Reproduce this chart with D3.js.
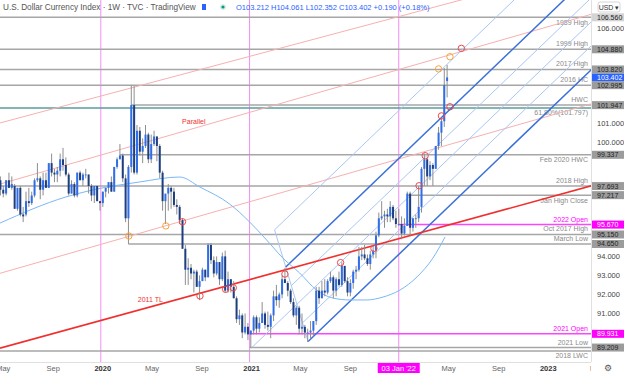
<!DOCTYPE html>
<html><head><meta charset="utf-8">
<script src="https://cdn.jsdelivr.net/npm/d3@7"></script>
<style>body{margin:0;background:#fff;}svg{display:block;font-family:"Liberation Sans",Arial,sans-serif;}</style>
</head><body><svg id="c" width="624" height="373"></svg>
<script>
// ---------------- DATA ----------------
const firstWeek = "2019-04-29";
// weekly O,H,L,C
const ohlc = [
// 2019 Apr29..Dec30
[98.0,98.2,97.2,97.5],[97.5,97.7,97.1,97.3],[97.3,98.0,97.2,98.0],[98.0,98.4,97.6,97.6],[97.6,98.2,97.5,97.8],
[97.7,97.8,96.5,96.5],[96.5,97.6,96.4,97.6],[97.6,97.7,96.1,96.2],[96.2,96.6,95.8,96.1],
[96.2,97.4,96.1,96.9],[96.9,97.6,96.6,96.8],[96.8,97.4,96.7,97.2],[97.2,98.1,97.1,98.0],[98.0,98.9,97.9,98.1],
[98.1,98.2,97.0,97.5],[97.5,98.4,97.2,98.0],[98.0,98.4,97.6,97.6],[97.6,98.9,97.6,98.9],
[98.9,99.4,98.2,98.4],[98.4,98.6,97.9,98.3],[98.3,98.7,97.9,98.5],[98.5,99.4,98.2,99.1],[99.1,99.7,98.5,98.8],
[98.8,99.2,98.2,98.3],[98.3,98.4,97.2,97.3],[97.3,98.0,97.3,97.8],[97.8,97.9,97.1,97.2],
[97.2,98.4,97.1,98.4],[98.4,98.5,98.0,98.0],[98.0,98.4,97.7,98.3],[98.3,98.6,98.1,98.3],
[98.3,98.3,97.3,97.7],[97.7,97.8,96.9,97.2],[97.2,97.7,96.8,97.7],[97.7,97.7,96.9,96.9],[96.9,96.9,96.4,96.8],
// 2020
[96.8,97.4,96.6,97.4],[97.4,97.6,97.1,97.6],[97.6,97.9,97.3,97.9],[97.9,98.2,97.4,97.4],
[97.4,98.7,97.4,98.7],[98.7,99.2,98.6,99.1],[99.1,99.9,99.1,99.3],[99.3,99.4,97.9,98.1],
[98.1,98.3,95.8,96.0],[96.0,98.8,94.65,98.7],[98.7,102.99,98.4,101.95],[101.95,102.95,98.3,98.4],[98.4,100.9,98.3,100.6],
[100.6,100.8,99.3,99.5],[99.5,100.2,98.9,99.8],[99.8,100.9,99.7,100.4],[100.4,100.5,98.9,99.1],
[99.1,100.4,98.9,99.9],[99.9,100.6,99.8,100.3],[100.3,100.3,99.0,99.8],[99.8,99.9,98.1,98.4],
[98.4,98.5,96.4,96.9],[96.9,97.1,95.7,97.3],[97.3,97.8,96.4,97.6],[97.6,97.7,96.5,97.4],[97.4,97.6,96.6,96.7],
[96.7,97.0,96.2,96.6],[96.6,96.7,95.7,95.9],[95.9,96.0,94.4,94.4],[94.4,94.6,92.5,93.3],
[93.3,93.9,92.5,93.4],[93.4,93.6,92.8,93.1],[93.1,93.3,92.1,93.2],[93.2,93.3,92.4,92.4],[92.4,93.0,91.7,92.7],
[92.7,93.4,92.7,93.3],[93.3,93.3,92.7,92.9],[92.9,94.7,92.9,94.6],[94.6,94.7,93.6,93.8],
[93.8,94.0,92.9,93.1],[93.1,94.0,93.0,93.7],[93.7,93.7,92.5,92.8],[92.8,94.2,92.7,94.0],
[94.0,94.3,92.1,92.2],[92.2,93.2,92.1,92.8],[92.8,92.8,92.1,92.4],[92.4,92.7,91.8,91.8],[91.8,91.9,90.5,90.7],
[90.7,91.2,90.4,90.9],[90.9,91.0,89.7,90.0],[90.0,91.0,89.9,90.3],[90.3,90.5,89.6,89.9],
// 2021
[89.9,90.1,89.2,90.1],[90.1,90.9,89.9,90.8],[90.8,90.9,89.9,90.2],[90.2,90.8,90.0,90.5],
[90.5,91.6,90.5,91.0],[91.0,91.1,90.2,90.4],[90.4,91.1,90.1,90.3],[90.3,91.0,89.7,90.9],
[90.9,92.2,90.6,91.9],[91.9,92.5,91.4,91.7],[91.7,92.1,91.3,92.0],[92.0,93.0,91.8,92.8],[92.8,93.4,92.6,92.6],
[92.6,92.7,91.9,92.2],[92.2,92.3,91.5,91.6],[91.6,91.8,90.8,90.9],[90.9,91.4,90.4,91.3],
[91.3,91.4,89.9,90.2],[90.2,91.0,89.9,90.3],[90.3,90.4,89.7,90.0],[90.0,90.2,89.5,90.0],[90.0,90.6,89.7,90.1],
[90.1,90.6,89.8,90.6],[90.6,92.4,90.4,92.2],[92.2,92.4,91.5,91.8],[91.8,92.7,91.8,92.2],
[92.2,92.8,91.9,92.1],[92.1,92.8,92.0,92.7],[92.7,93.2,92.6,92.9],[92.9,93.0,91.8,92.2],
[92.2,92.9,91.9,92.8],[92.8,93.2,92.4,92.5],[92.5,93.7,92.4,93.5],[93.5,93.5,92.6,92.7],[92.7,92.9,91.9,92.1],
[92.1,92.8,91.9,92.6],[92.6,93.3,92.3,93.2],[93.2,93.5,92.8,93.3],[93.3,94.5,93.2,94.0],
[94.0,94.5,93.8,94.1],[94.1,94.6,93.8,93.9],[93.9,94.1,93.5,93.6],[93.6,94.3,93.3,94.1],
[94.1,94.6,93.9,94.3],[94.3,95.3,93.9,95.1],[95.1,96.3,95.0,96.0],[96.0,96.9,95.9,96.1],[96.1,96.4,95.5,96.2],
[96.2,96.5,95.8,96.1],[96.1,96.9,95.8,96.6],[96.6,96.7,95.9,96.0],[96.0,96.4,95.5,95.7],
// 2022
[95.7,96.5,95.6,95.7],[95.7,96.1,94.9,95.2],[95.2,96.0,95.1,95.6],[95.6,97.4,95.6,97.3],[97.3,97.4,95.1,95.5],
[95.5,96.0,95.3,96.0],[96.0,96.2,95.5,96.0],[96.0,97.7,95.8,96.6],[96.6,98.7,96.3,98.6],
[98.6,99.4,97.7,99.1],[99.1,99.2,97.7,98.2],[98.2,99.0,98.0,98.8],[98.8,98.9,97.7,98.6],
[98.6,99.8,98.6,99.8],[99.8,100.8,99.6,100.5],[100.5,101.3,99.8,101.1],[101.1,103.9,100.8,103.0],
[103.212,104.061,102.352,103.402]
];
// 52-week moving average
const maDates  = ["2019-04-28","2019-10-07","2019-12-12","2020-04-06","2020-07-13","2020-09-01","2020-11-13","2021-01-01","2021-02-12","2021-03-24","2021-05-04","2021-06-15","2021-07-25","2021-09-04","2021-10-16","2021-11-25","2022-01-06","2022-02-17","2022-03-28","2022-04-27"];
const maValues = [95.75,97.12,97.49,97.91,98.17,97.64,96.75,95.81,94.86,93.91,93.13,92.23,91.81,91.71,91.71,91.86,92.23,92.92,93.91,95.02];
// horizontal levels
const levelNames  = ["1989 High","1999 High","2017 High","2016 HC","HWC","61.80%(101.797)","Feb 2020 HWC","2018 High","Jan High Close","2022 Open","Oct 2017 High","March Low","2021 Open","2021 Low","2018 LWC"];
const levelPrices = [106.56,104.88,103.82,102.995,101.947,101.797,99.337,97.693,97.217,95.67,95.15,94.65,89.931,89.209,89.03];
const levelStart  = ["2019-01-01","2019-01-01","2019-01-01","2019-01-01","2020-03-16","2019-01-01","2020-02-17","2019-01-01","2022-01-24","2022-01-03","2019-01-01","2020-03-09","2021-01-01","2021-01-01","2019-01-01"];
const lastPrice = 103.402;
// trend lines: [date1, price1, date2, price2]
const tl2011   = ["2019-04-28",89.18,"2023-04-21",97.70];
const pinkLines = [
  ["2019-04-28",101.01,"2022-01-07",106.62],
  ["2019-04-28",97.80,"2022-01-07",103.84],
  ["2019-04-28",93.11,"2022-01-07",99.14]
];
// pitchfork pivots A, B, C
const pfDates  = ["2021-01-06","2021-03-31","2021-05-25"];
const pfPrices = [89.2,93.44,89.53];
const pfLevels = [-2,-1,-0.5,0,0.5,1];
// touch markers
const redMarks = [["2020-07-20",95.82],["2020-09-01",91.92],["2020-11-03",92.27],["2020-11-22",92.35],["2021-03-29",93.07],["2021-08-13",93.67],["2021-11-03",94.42],["2022-02-22",97.71],["2022-03-09",99.29],["2022-04-18",101.38],["2022-05-09",101.86],["2022-06-06",104.93]];
const orangeMarks = [["2020-03-10",95.07],["2020-06-09",95.60],["2022-04-11",103.85],["2022-05-09",104.49]];
// time axis labels
const xTickDates  = ["2019-05-01","2019-09-01","2020-01-01","2020-05-01","2020-09-01","2021-01-01","2021-05-01","2021-09-01","2022-05-01","2022-09-01","2023-01-01","2023-05-01"];
const xTickLabels = ["May","Sep","2020","May","Sep","2021","May","Sep","May","Sep","2023","May"];
const yearLines = ["2020-01-01","2021-01-01","2022-01-03"];
const priceTicks = [90,91,92,93,94,95,96,97,98,99,100,101,102,103,104,105,106];

// ---------------- DRAW ----------------
const P = d3.timeParse("%Y-%m-%d");
const W=624,H=373,PR=591,PB=362;
const svg=d3.select("#c");
const x=d3.scaleTime().domain([P("2019-04-28"),P("2023-04-21")]).range([0,PR]);
const y=d3.scaleLinear().domain([88.45,107.47]).range([PB,0]);
svg.append("rect").attr("width",W).attr("height",H).attr("fill","#fff");
svg.append("clipPath").attr("id","clip").append("rect").attr("width",PR).attr("height",PB);
const g=svg.append("g").attr("clip-path","url(#clip)");

// year lines
g.selectAll(".yl").data(yearLines).join("line").attr("x1",d=>x(P(d))).attr("x2",d=>x(P(d))).attr("y1",0).attr("y2",PB).attr("stroke","#f58cf5").attr("stroke-width",1);

// horizontal levels
const lvlColor = i => (levelNames[i].includes("Open") ? "#ff44ff" : levelNames[i].startsWith("61.80") ? "#5b9c9c" : "#a6a6a6");
g.selectAll(".lv").data(levelPrices).join("line")
  .attr("x1",(d,i)=>Math.max(0,x(P(levelStart[i])))).attr("x2",PR)
  .attr("y1",d=>y(d)).attr("y2",d=>y(d))
  .attr("stroke",(d,i)=>lvlColor(i)).attr("stroke-width",1.5);
const below = new Set(["1989 High","61.80%(101.797)","Feb 2020 HWC","Jan High Close","2018 LWC"]);
g.selectAll(".lt").data(levelPrices).join("text")
  .attr("x",588).attr("y",(d,i)=>y(d)+(below.has(levelNames[i])?7.5:-3))
  .attr("text-anchor","end").attr("font-size",7).attr("fill",(d,i)=>levelNames[i].includes("Open")?"#ff00ff":"#8a8a8a")
  .text((d,i)=>levelNames[i]);

// rays
function rayPx(sel,x1,y1,s,color,w){
  sel.append("line").attr("x1",x1).attr("y1",y1).attr("x2",PR+5).attr("y2",y1+s*(PR+5-x1)).attr("stroke",color).attr("stroke-width",w);
}
function ray(sel, L, color, w){
  const x1=x(P(L[0])),y1=y(L[1]),x2=x(P(L[2])),y2=y(L[3]);
  rayPx(sel,x1,y1,(y2-y1)/(x2-x1),color,w);
}
pinkLines.forEach(L=>ray(g,L,"#f7b0b0",1));

// pitchfork
const pa=[x(P(pfDates[0])),y(pfPrices[0])], pb=[x(P(pfDates[1])),y(pfPrices[1])], pc=[x(P(pfDates[2])),y(pfPrices[2])];
const pm=[(pb[0]+pc[0])/2,(pb[1]+pc[1])/2];
const slope=(pm[1]-pa[1])/(pm[0]-pa[0]);
const kMin=d3.min(pfLevels);
g.append("line").attr("x1",pm[0]+kMin*(pc[0]-pm[0])).attr("y1",pm[1]+kMin*(pc[1]-pm[1])).attr("x2",pc[0]).attr("y2",pc[1]).attr("stroke","#a9c6f3").attr("stroke-width",1);
pfLevels.forEach(k=>{
  const sx=pm[0]+k*(pc[0]-pm[0]), sy=pm[1]+k*(pc[1]-pm[1]);
  const tine=Math.abs(k)===1;
  if(k===0) rayPx(g,pa[0],pa[1],slope,"#a9c6f3",1);
  else rayPx(g,sx,sy,slope,tine?"#3a70d8":"#a9c6f3",tine?1.5:1);
});

// MA
g.append("path").datum(maDates.map((d,i)=>[P(d),maValues[i]]))
 .attr("d",d3.line().x(d=>x(d[0])).y(d=>y(d[1])).curve(d3.curveMonotoneX))
 .attr("fill","none").attr("stroke","#7ab8f5").attr("stroke-width",1);

// 2011 TL
ray(g,tl2011,"#f0302e",1.6);
g.append("text").attr("x",x(P("2020-04-01"))).attr("y",y(91.58)).attr("font-size",7).attr("fill","#f0302e").text("2011 TL");
g.append("text").attr("x",x(P("2020-07-19"))).attr("y",y(100.93)).attr("font-size",7).attr("fill","#f0302e").text("Parallel");

// candles
const w0=P(firstWeek);
const bars=ohlc.map((r,i)=>({d:d3.timeMonday.offset(w0,i),o:r[0],h:r[1],l:r[2],c:r[3]}));
g.selectAll(".wk").data(bars).join("line").attr("x1",d=>x(d.d)).attr("x2",d=>x(d.d)).attr("y1",d=>y(d.h)).attr("y2",d=>y(d.l)).attr("stroke","#8e8e8e").attr("stroke-width",1);
g.selectAll(".bd").data(bars).join("rect").attr("x",d=>x(d.d)-1).attr("width",2)
 .attr("y",d=>y(Math.max(d.o,d.c))).attr("height",d=>Math.max(0.8,Math.abs(y(d.o)-y(d.c))))
 .attr("fill",d=>d.c>=d.o?"#2f6ee8":"#1d3f80");

// markers
g.selectAll(".rm").data(redMarks).join("circle").attr("cx",d=>x(P(d[0]))).attr("cy",d=>y(d[1])).attr("r",3.2).attr("fill","none").attr("stroke","#f04848").attr("stroke-width",1);
g.selectAll(".om").data(orangeMarks).join("circle").attr("cx",d=>x(P(d[0]))).attr("cy",d=>y(d[1])).attr("r",3.2).attr("fill","none").attr("stroke","#f6a53a").attr("stroke-width",1);

// header
svg.append("text").attr("x",3).attr("y",9.5).attr("font-size",8.2).attr("fill","#555").text("U.S. Dollar Currency Index · 1W · TVC · TradingView");
svg.append("rect").attr("x",202).attr("y",4).attr("width",4).attr("height",6).attr("fill","#2962ff");
svg.append("circle").attr("cx",223).attr("cy",7).attr("r",3).attr("fill","#d8f0e6");
svg.append("circle").attr("cx",223).attr("cy",7).attr("r",1.6).attr("fill","#089981");
svg.append("text").attr("x",236).attr("y",9.5).attr("font-size",7.5).attr("fill","#2962ff")
  .text("O103.212 H104.061 L102.352 C103.402 +0.190 (+0.18%)");

// right axis
svg.append("rect").attr("x",PR).attr("y",0).attr("width",W-PR).attr("height",H).attr("fill","#fff");
svg.append("line").attr("x1",PR+0.5).attr("x2",PR+0.5).attr("y1",0).attr("y2",H).attr("stroke","#e0e0e0");
const boxList=[];
boxList.push({p:lastPrice,bg:"#2962ff",fg:"#fff"});
levelPrices.forEach((p,i)=>{ if(levelNames[i].startsWith("61.80")||levelNames[i]==="2018 LWC") return;
  const open=levelNames[i].includes("Open");
  boxList.push({p, bg: open?"#ff00ff": (i===0?"#d4d4d4":"#9c9c9c"), fg: open?"#fff":"#222"});});
const visTicks=priceTicks.filter(t=>boxList.every(b=>Math.abs(y(b.p)-y(t))>8.5));
svg.selectAll(".pt").data(visTicks).join("text").attr("x",597).attr("y",d=>y(d)+2.6).attr("font-size",7.5).attr("fill","#444").text(d=>d.toFixed(3));
const bx=svg.selectAll(".bx").data(boxList).join("g").attr("transform",d=>`translate(${PR+1},${y(d.p)})`);
bx.append("rect").attr("x",0).attr("y",-4).attr("width",W-PR-1).attr("height",8).attr("fill",d=>d.bg);
bx.append("text").attr("x",5).attr("y",2.5).attr("font-size",7).attr("fill",d=>d.fg).text(d=>d.p.toFixed(3));
// USD
svg.append("rect").attr("x",598).attr("y",2).attr("width",22).attr("height",10).attr("rx",2).attr("fill","#fff").attr("stroke","#bbb").attr("stroke-width",0.6);
svg.append("text").attr("x",609).attr("y",9.5).attr("text-anchor","middle").attr("font-size",7).attr("fill","#333").text("USD ▾");

// bottom axis
svg.append("rect").attr("x",0).attr("y",PB).attr("width",W).attr("height",H-PB).attr("fill","#fff");
svg.append("line").attr("x1",0).attr("x2",W).attr("y1",PB+0.5).attr("y2",PB+0.5).attr("stroke","#e0e0e0");
svg.selectAll(".xt").data(xTickDates).join("text").attr("x",d=>x(P(d))+2).attr("y",370.5).attr("text-anchor","middle")
 .attr("font-size",7.5).attr("font-weight",(d,i)=>/^\d/.test(xTickLabels[i])?"bold":"normal").attr("fill",(d,i)=>/^\d/.test(xTickLabels[i])?"#333":"#666").text((d,i)=>xTickLabels[i]);
const jx=x(P("2022-01-03"));
svg.append("rect").attr("x",jx-21).attr("y",PB+1).attr("width",42).attr("height",H-PB-1).attr("fill","#ff00ff");
svg.append("text").attr("x",jx).attr("y",370.5).attr("text-anchor","middle").attr("font-size",7.5).attr("fill","#fff").text("03 Jan '22");
svg.append("rect").attr("x",PR).attr("y",PB).attr("width",W-PR).attr("height",H-PB).attr("fill","#fff");
svg.append("text").attr("x",608).attr("y",371).attr("text-anchor","middle").attr("font-size",9).attr("fill","#555").text("⚙");
</script></body></html>
